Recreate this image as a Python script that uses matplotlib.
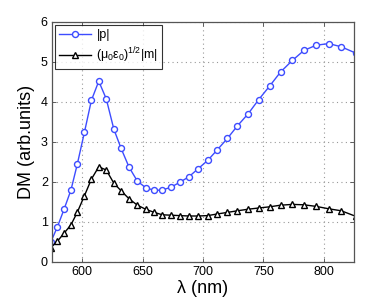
import matplotlib
matplotlib.use('Agg')
import matplotlib.pyplot as plt

plt.rcParams['font.family'] = ['Liberation Sans', 'DejaVu Sans']
plt.rcParams['mathtext.fontset'] = 'custom'
plt.rcParams['mathtext.rm'] = 'Liberation Sans'
plt.rcParams['mathtext.it'] = 'Liberation Sans'

# wavelength (nm), points
wl = [574.0, 579.5, 585.0, 590.7, 595.9, 601.9, 607.6, 613.7, 619.9, 626.2,
      632.2, 638.8, 645.7, 652.5, 659.6, 666.4, 673.5, 680.6, 688.3, 695.9,
      703.9, 711.7, 720.2, 728.4, 737.5, 746.1, 755.2, 764.2, 774.0, 783.6,
      793.7, 804.1, 814.5, 826.6]
# |p|
p_abs = [0.50, 0.88, 1.32, 1.80, 2.44, 3.25, 4.04, 4.52, 4.08, 3.32,
         2.84, 2.37, 2.02, 1.86, 1.79, 1.80, 1.87, 1.99, 2.13, 2.33,
         2.54, 2.80, 3.09, 3.40, 3.71, 4.06, 4.40, 4.75, 5.04, 5.29,
         5.42, 5.46, 5.38, 5.22]
# (mu0 eps0)^1/2 |m|
m_abs = [0.36, 0.52, 0.72, 0.93, 1.24, 1.66, 2.07, 2.38, 2.30, 1.97,
         1.78, 1.58, 1.42, 1.32, 1.24, 1.18, 1.17, 1.16, 1.15, 1.15,
         1.16, 1.20, 1.24, 1.28, 1.32, 1.35, 1.38, 1.42, 1.44, 1.43,
         1.39, 1.33, 1.28, 1.14]

fig = plt.figure(figsize=(3.91, 2.99), dpi=100)
ax = fig.add_axes([52 / 391, 1 - 262 / 299, 302 / 391, 240 / 299])

ax.plot(wl, p_abs, color='#3d4cff', lw=1.0, marker='o', ms=4.3,
        mfc='white', mec='#3d4cff', mew=1.0, label='|p|')
ax.plot(wl, m_abs, color='black', lw=1.0, marker='^', ms=4.8,
        mfc='white', mec='black', mew=1.0,
        label=r'$(\mu_0\varepsilon_0)^{1/2}|m|$')

ax.set_xlim(575, 825)
ax.set_ylim(0, 6)
ax.set_xticks([600, 650, 700, 750, 800])
ax.set_yticks([0, 1, 2, 3, 4, 5, 6])
ax.grid(True, linestyle=(0, (1, 3)), color='#999999', lw=0.8)
ax.tick_params(direction='in', top=True, right=True, labelsize=9,
               length=3, width=0.6, color='#444444', pad=3)
for s in ax.spines.values():
    s.set_color('#555555')
    s.set_linewidth(0.9)

ax.set_xlabel('λ (nm)', fontsize=13, labelpad=1)
ax.set_ylabel('DM (arb.units)', fontsize=13, labelpad=4)

leg = ax.legend(loc='upper left', fontsize=9, frameon=True, fancybox=False,
                edgecolor='black', borderaxespad=0.25, handlelength=2.6,
                borderpad=0.3, labelspacing=0.4, handletextpad=0.4)
leg.get_frame().set_linewidth(0.8)

fig.savefig('out.png', dpi=100)
